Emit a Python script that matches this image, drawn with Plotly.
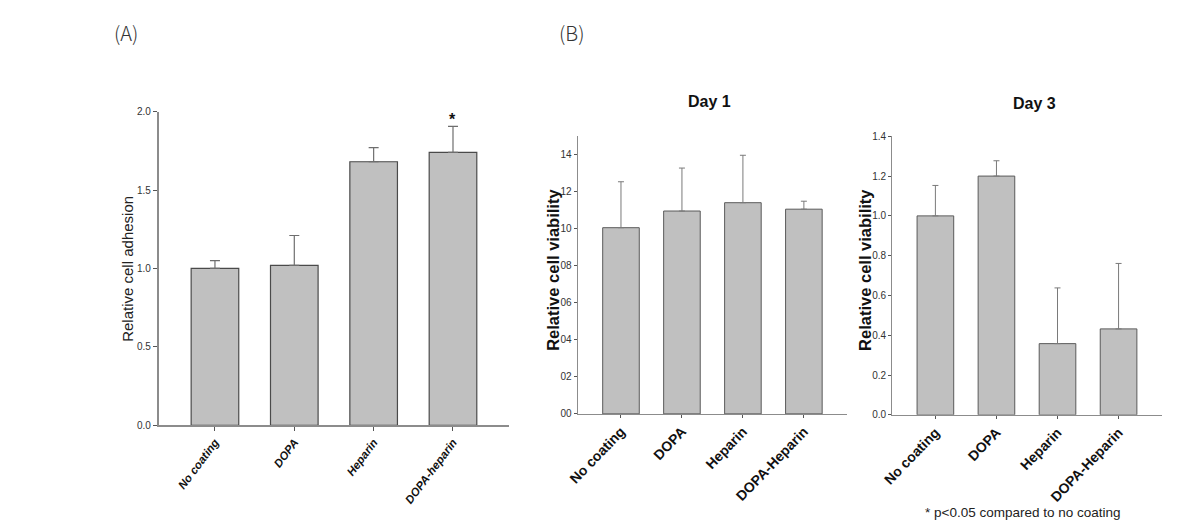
import plotly.graph_objects as go

# Panel A data
cats_a = ["No coating", "DOPA", "Heparin", "DOPA-heparin"]
adhesion = [1.00, 1.02, 1.68, 1.74]
adhesion_err_top = [1.05, 1.21, 1.77, 1.905]
yticks_a = [0.0, 0.5, 1.0, 1.5, 2.0]
yticktext_a = ["0.0", "0.5", "1.0", "1.5", "2.0"]

# Panel B data
cats_b = ["No coating", "DOPA", "Heparin", "DOPA-Heparin"]
day1 = [1.005, 1.095, 1.14, 1.105]
day1_err_top = [1.253, 1.327, 1.396, 1.148]
day3 = [1.00, 1.20, 0.358, 0.432]
day3_err_top = [1.153, 1.277, 0.638, 0.761]
yticks_b = [0.0, 0.2, 0.4, 0.6, 0.8, 1.0, 1.2, 1.4]
yticktext_day1 = ["00", "02", "04", "06", "08", "10", "12", "14"]
yticktext_day3 = ["0.0", "0.2", "0.4", "0.6", "0.8", "1.0", "1.2", "1.4"]

W, H = 1185, 532
def px(x):
    return x / W
def py(y):
    return 1 - y / H

BAR_FILL = "#c0c0c0"
BAR_LINE = "#4a4a4a"
AXIS = "#8c8c8c"

fig = go.Figure()

fig.add_trace(go.Bar(
    x=cats_a, y=adhesion, width=0.6, xaxis="x", yaxis="y",
    marker=dict(color=BAR_FILL, line=dict(color=BAR_LINE, width=1.2)),
    error_y=dict(type="data", symmetric=False,
                 array=[t - v for t, v in zip(adhesion_err_top, adhesion)],
                 arrayminus=[0] * 4, color="#6e6e6e", thickness=1.2, width=5),
    showlegend=False))

fig.add_trace(go.Bar(
    x=cats_b, y=day1, width=0.6, xaxis="x2", yaxis="y2",
    marker=dict(color=BAR_FILL, line=dict(color="#5a5a5a", width=1)),
    error_y=dict(type="data", symmetric=False,
                 array=[t - v for t, v in zip(day1_err_top, day1)],
                 arrayminus=[0] * 4, color="#7a7a7a", thickness=1, width=3),
    showlegend=False))

fig.add_trace(go.Bar(
    x=cats_b, y=day3, width=0.6, xaxis="x3", yaxis="y3",
    marker=dict(color=BAR_FILL, line=dict(color="#5a5a5a", width=1)),
    error_y=dict(type="data", symmetric=False,
                 array=[t - v for t, v in zip(day3_err_top, day3)],
                 arrayminus=[0] * 4, color="#7a7a7a", thickness=1, width=3),
    showlegend=False))

common_x = dict(showline=True, linecolor=AXIS, linewidth=1.5, ticks="outside",
                ticklen=4, tickcolor="#555", showgrid=False, zeroline=False,
                range=[-0.71, 3.71], fixedrange=True)
common_y = dict(showline=True, linecolor=AXIS, linewidth=1.5, ticks="outside",
                ticklen=4, tickcolor="#555", showgrid=False, zeroline=False,
                tickmode="array", fixedrange=True)

fig.update_layout(
    width=W, height=H,
    margin=dict(l=0, r=0, t=0, b=0),
    paper_bgcolor="white", plot_bgcolor="white",
    bargap=0.4,
    xaxis=dict(common_x, domain=[px(149), px(503)], anchor="y",
               tickangle=-53,
               tickfont=dict(family="Liberation Sans, Arial", size=11.5,
                             color="#111", weight="bold", style="italic")),
    yaxis=dict(common_y, domain=[py(429), py(108)], anchor="x",
               range=[0, 2.0], tickvals=yticks_a, ticktext=yticktext_a,
               tickfont=dict(family="Liberation Sans Narrow, Liberation Sans, Arial",
                             size=10, color="#333")),
    xaxis2=dict(common_x, domain=[px(572), px(844)], anchor="y2",
                linewidth=1, ticklen=3, tickangle=-46,
                tickfont=dict(family="Liberation Sans, Arial", size=14,
                              color="#111", weight="bold")),
    yaxis2=dict(common_y, domain=[py(417.3), py(133)], anchor="x2",
                linewidth=1, ticklen=3,
                range=[0, 1.5], tickvals=yticks_b, ticktext=yticktext_day1,
                tickfont=dict(family="Liberation Sans Narrow, Liberation Sans, Arial",
                              size=10, color="#333")),
    xaxis3=dict(common_x, domain=[px(889.3), px(1161.7)], anchor="y3",
                linewidth=1, ticklen=3, tickangle=-46,
                tickfont=dict(family="Liberation Sans, Arial", size=14,
                              color="#111", weight="bold")),
    yaxis3=dict(common_y, domain=[py(418.3), py(133.3)], anchor="x3",
                linewidth=1, ticklen=3,
                range=[0, 1.4], tickvals=yticks_b, ticktext=yticktext_day3,
                tickfont=dict(family="Liberation Sans Narrow, Liberation Sans, Arial",
                              size=10, color="#333")),
)

def note(text, x, y, size, weight="normal", angle=0, family="Liberation Sans, Arial",
         color="#111"):
    return dict(text=text, x=px(x), y=py(y), xref="paper", yref="paper",
                xanchor="center", yanchor="middle", textangle=angle, showarrow=False,
                font=dict(family=family, size=size, color=color, weight=weight))

annotations = [
    note("(A)", 116, 27, 20, weight=300, family="Noto Sans CJK KR, Noto Sans", color="#333"),
    note("(B)", 566, 27, 20, weight=300, family="Noto Sans CJK KR, Noto Sans", color="#333"),
    note("Relative cell adhesion", 118, 269, 15, angle=-90, color="#222"),
    note("Relative cell viability", 547, 270, 16.5, weight="bold", angle=-90),
    note("Relative cell viability", 862, 270, 16.5, weight="bold", angle=-90),
    note("Day 1", 705, 98, 16, weight="bold"),
    note("Day 3", 1033, 100, 16, weight="bold"),
    note("* p<0.05 compared to no coating", 1021, 518, 13.5,
         family="Liberation Sans Narrow, Liberation Sans, Arial", color="#222"),
    dict(text="*", x=cats_a[3], y=adhesion_err_top[3], xref="x", yref="y",
         xanchor="center", yanchor="bottom", showarrow=False, yshift=-4,
         font=dict(family="Liberation Sans, Arial", size=16, color="#111", weight="bold")),
]
fig.update_layout(annotations=annotations)

fig.write_html("out.html")
